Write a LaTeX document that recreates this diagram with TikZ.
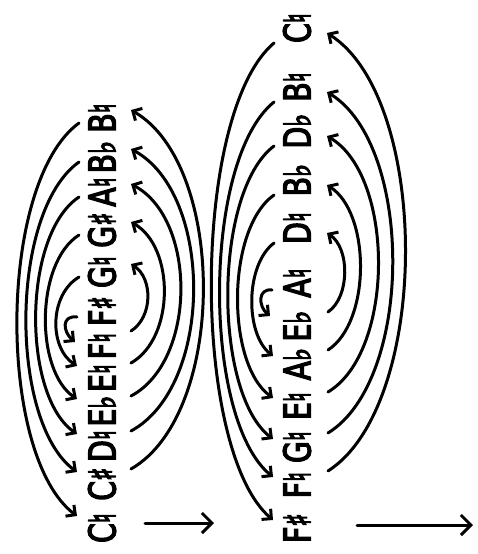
\documentclass[tikz,border=0pt]{standalone}
\usepackage{fontspec}
\newfontfamily\notefont[FakeStretch=0.76,FakeBold=3.5]{DejaVu Sans}
\usetikzlibrary{arrows.meta, calc}

\begin{document}
\begin{tikzpicture}[
  x=1pt, y=-1pt,
  note/.style={rotate=90, inner sep=0pt, font=\notefont\fontsize{37}{37}\selectfont},
  arr/.style={-{Straight Barb[length=7pt,width=14pt]}, line width=3pt, line cap=round, line join=round},
  bigarr/.style={-{Straight Barb[length=10pt,width=20pt]}, line width=3pt, line cap=round, line join=round}
]
  \useasboundingbox (0,0) rectangle (477,554);

  % first row of notes
  \node[note] (Cn) at (102,528) {C♮};
  \node[note] (Cs) at (102,484) {C♯};
  \node[note] (Dn) at (102,446) {D♮};
  \node[note] (Eb) at (102,411) {E♭};
  \node[note] (En) at (102,378) {E♮};
  \node[note] (Fn) at (102,346) {F♮};
  \node[note] (Fs) at (102,311) {F♯};
  \node[note] (Gn) at (102,272) {G♮};
  \node[note] (Gs) at (102,230) {G♯};
  \node[note] (An) at (102,192) {A♮};
  \node[note] (Bb) at (102,157) {B♭};
  \node[note] (Bn) at (102,118) {B♮};

  % second row of notes
  \node[note] (Fs2) at (297,528) {F♯};
  \node[note] (Fn2) at (297,485) {F♮};
  \node[note] (Gn2) at (297,447) {G♮};
  \node[note] (En2) at (297,406) {E♮};
  \node[note] (Ab2) at (297,364) {A♭};
  \node[note] (Eb2) at (297,326) {E♭};
  \node[note] (An2) at (297,283) {A♮};
  \node[note] (Dn2) at (297,228) {D♮};
  \node[note] (Bb2) at (297,180) {B♭};
  \node[note] (Db2) at (297,131) {D♭};
  \node[note] (Bn2) at (297,87) {B♮};
  \node[note] (Cn2) at (297,28) {C♮};

  % first row, left arcs
  \draw[arr] ($(Bn)+(-23,5)$) .. controls +(-82,60) and +(-80,-60) .. ($(Cn)+(-25,-12)$);
  \draw[arr] ($(Bb)+(-23,5)$) .. controls +(-70,50) and +(-68,-50) .. ($(Cs)+(-25,-12)$);
  \draw[arr] ($(An)+(-23,5)$) .. controls +(-57,38) and +(-55,-38) .. ($(Dn)+(-25,-12)$);
  \draw[arr] ($(Gs)+(-23,5)$) .. controls +(-44,28) and +(-42,-28) .. ($(Eb)+(-25,-12)$);
  \draw[arr] ($(Gn)+(-23,5)$) .. controls +(-30,18) and +(-28,-18) .. ($(En)+(-25,-12)$);
  \draw[arr] ($(Fs)+(-25,6)$) .. controls +(-16,-2) and +(-12,-10) .. ($(Fn)+(-27,-4)$);

  % first row, right arcs
  \draw[arr] ($(Cs)+(29,-15)$) .. controls +(96,-55) and +(96,55) .. ($(Bn)+(29,-8)$);
  \draw[arr] ($(Dn)+(29,-15)$) .. controls +(83,-45) and +(83,45) .. ($(Bb)+(29,-8)$);
  \draw[arr] ($(Eb)+(29,-15)$) .. controls +(66,-35) and +(66,35) .. ($(An)+(29,-8)$);
  \draw[arr] ($(En)+(29,-15)$) .. controls +(44,-25) and +(44,25) .. ($(Gs)+(29,-8)$);
  \draw[arr] ($(Fn)+(29,-15)$) .. controls +(22,-14) and +(22,14) .. ($(Gn)+(29,-8)$);

  % second row, left arcs
  \draw[arr] ($(Cn2)+(-23,15)$) .. controls +(-83,70) and +(-82,-70) .. ($(Fs2)+(-24,-8)$);
  \draw[arr] ($(Bn2)+(-23,15)$) .. controls +(-72,58) and +(-71,-58) .. ($(Fn2)+(-24,-8)$);
  \draw[arr] ($(Db2)+(-23,15)$) .. controls +(-61,46) and +(-60,-46) .. ($(Gn2)+(-24,-8)$);
  \draw[arr] ($(Bb2)+(-23,15)$) .. controls +(-48,34) and +(-47,-34) .. ($(En2)+(-24,-8)$);
  \draw[arr] ($(Dn2)+(-23,15)$) .. controls +(-29,22) and +(-28,-22) .. ($(Ab2)+(-24,-8)$);
  \draw[arr] ($(An2)+(-25,7)$) .. controls +(-14,-2) and +(-12,-10) .. ($(Eb2)+(-27,-10)$);

  % second row, right arcs
  \draw[arr] ($(Fn2)+(31,-14)$) .. controls +(103,-66) and +(104,66) .. ($(Cn2)+(30,5)$);
  \draw[arr] ($(Gn2)+(31,-14)$) .. controls +(86,-53) and +(87,53) .. ($(Bn2)+(30,5)$);
  \draw[arr] ($(En2)+(31,-14)$) .. controls +(67,-40) and +(68,40) .. ($(Db2)+(30,5)$);
  \draw[arr] ($(Ab2)+(31,-14)$) .. controls +(43,-28) and +(44,28) .. ($(Bb2)+(30,5)$);
  \draw[arr] ($(Eb2)+(31,-14)$) .. controls +(22,-15) and +(23,15) .. ($(Dn2)+(30,5)$);

  % arrows along the bottom
  \coordinate (a1) at (145,523);
  \coordinate (b1) at (214,523);
  \coordinate (a2) at (357,525);
  \coordinate (b2) at (473,525);
  \draw[bigarr] (a1) -- (b1);
  \draw[bigarr] (a2) -- (b2);
\end{tikzpicture}
\end{document}
